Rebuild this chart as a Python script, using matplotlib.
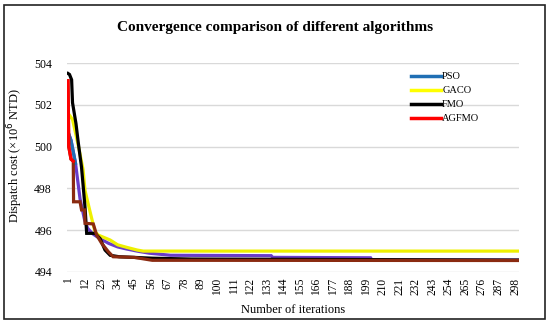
import matplotlib
matplotlib.use("Agg")
import matplotlib.pyplot as plt
from matplotlib.lines import Line2D
from matplotlib.patches import Rectangle
import numpy as np

plt.rcParams['font.family'] = ['Liberation Serif', 'DejaVu Serif']

title = "Convergence comparison of different algorithms"
xlabel = "Number of iterations"
ylabel = "Dispatch cost (×10$^6$ NTD)"
labels = ["PSO", "GACO", "FMO", "AGFMO"]
legend_colors = ["#1f6fb4", "#ffff00", "#000000", "#ff0000"]
line_colors = ["#6a3cc8", "#eef000", "#000000", "#8a2a10"]

n_iter = 300
xticks = list(range(1, 299, 11))
yticks = [494, 496, 498, 500, 502, 504]

pso_x = [1, 3, 6, 9, 12, 14, 17, 20, 24, 28, 34, 40, 47, 55, 69, 136, 137, 202, 203, 300]
pso_y = [500.7, 500.3, 499.2, 497.5, 496.5, 496.1, 495.85, 495.7, 495.53, 495.37, 495.2, 495.1,
         495.0, 494.9, 494.8, 494.78, 494.7, 494.68, 494.57, 494.57]

gaco_x = [1, 4, 8, 11, 12.3, 15.6, 17.8, 19, 21, 29, 34, 40, 47, 51, 300]
gaco_y = [501.6, 501.3, 500.0, 498.9, 497.9, 496.9, 496.25, 495.93, 495.77, 495.53, 495.3,
          495.18, 495.05, 495.0, 495.0]

fmo_x = [1, 2, 3.4, 4, 6.3, 7.8, 10, 12.3, 13.4, 19, 22.3, 25.6, 29, 35, 57, 83, 300]
fmo_y = [503.5, 503.45, 503.2, 502.1, 501.1, 500.2, 499.0, 497.1, 495.85, 495.85, 495.6,
         495.05, 494.8, 494.73, 494.66, 494.62, 494.57]

agfmo_x = [1, 1.5, 3, 4.5, 4.7, 9, 10, 12, 12.3, 17.8, 20, 23.4, 27.8, 31, 45, 57, 300]
agfmo_y = [503.15, 500.0, 499.4, 499.3, 497.36, 497.36, 496.97, 496.97, 496.33, 496.3, 495.77,
           495.37, 494.97, 494.73, 494.7, 494.56, 494.55]

# number of leading points that appear in the pure legend colour
head_points = [3, 0, 0, 4]

W, H = 550, 326
fig = plt.figure(figsize=(W / 100, H / 100), dpi=100)
ax = fig.add_axes([67.25 / W, 1 - 272 / H, (518.8 - 67.25) / W, (272 - 63) / H])

series = [(pso_x, pso_y), (gaco_x, gaco_y), (fmo_x, fmo_y), (agfmo_x, agfmo_y)]
for (xs, ys), c, lc, k in zip(series, line_colors, legend_colors, head_points):
    ax.plot(xs, ys, color=c, lw=2.3, solid_joinstyle='miter')
    if k:
        ax.plot(xs[:k], ys[:k], color=lc, lw=2.3, solid_joinstyle='miter')

ax.set_xlim(0.5, n_iter + 0.5)
ax.set_ylim(494, 504)
ax.set_yticks(yticks)
ax.set_yticklabels([str(v) for v in yticks], fontsize=8.5)
ax.set_xticks(xticks)
ax.set_xticklabels([str(v) for v in xticks], rotation=90, fontsize=8.3)
ax.tick_params(axis='both', length=0, pad=4)
ax.tick_params(axis='y', pad=11)
for s in ax.spines.values():
    s.set_visible(False)
ax.grid(axis='y', color='#d9d9d9', lw=1)
ax.set_axisbelow(True)

fig.text(275 / W, 1 - 27 / H, title, ha='center', va='center', fontsize=11, fontweight='bold')
fig.text(293 / W, 1 - 310 / H, xlabel, ha='center', va='center', fontsize=9)
fig.text(15 / W, 1 - 156 / H, ylabel, ha='center', va='center', rotation=90, fontsize=9)

handles = [Line2D([], [], color=c, lw=2.5) for c in legend_colors]
fig.legend(handles, labels, loc='upper left', bbox_to_anchor=(411 / W, 1 - 72 / H),
           frameon=False, fontsize=7.5, handlelength=2.9, handletextpad=0.1,
           labelspacing=0.45, borderpad=0, borderaxespad=0)

fig.add_artist(Rectangle((4 / W, 1 - 319 / H), 541 / W, 314 / H, transform=fig.transFigure,
                         fill=False, edgecolor='#222222', lw=1.2))

fig.savefig("out.png", dpi=100)
